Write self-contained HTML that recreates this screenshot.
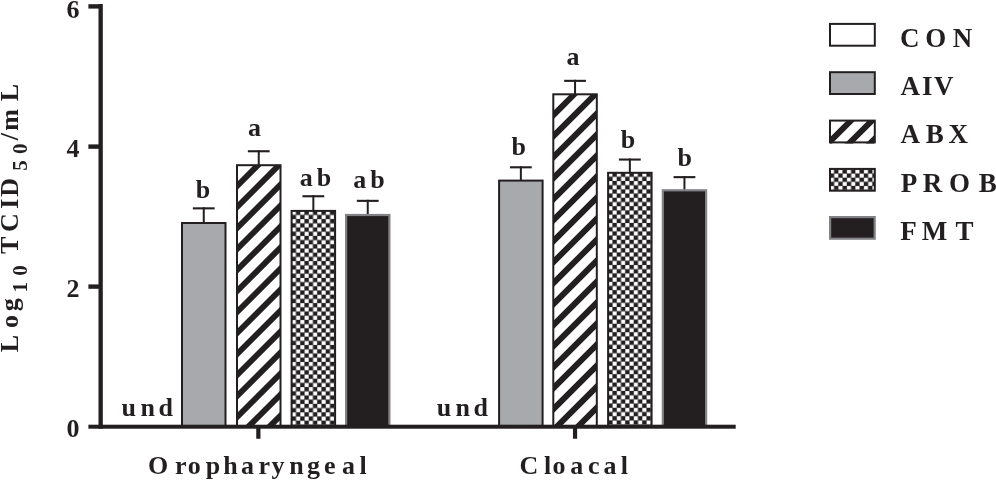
<!DOCTYPE html>
<html><head><meta charset="utf-8"><title>Log10 TCID50/mL chart</title>
<style>html,body{margin:0;padding:0;background:#fff;}body{width:996px;height:480px;overflow:hidden;}svg{display:block;}</style>
</head><body>
<svg width="996" height="480" viewBox="0 0 996 480">
<defs><clipPath id="st0"><rect x="237.0" y="165.2" width="43.5" height="261.5"/></clipPath><pattern id="ck0" patternUnits="userSpaceOnUse" x="291.75" y="210.70000000000002" width="8.5" height="8.4"><rect width="8.5" height="8.4" fill="#231f20"/><rect x="0.1" y="0.1" width="4.05" height="4.0" fill="#fff"/><rect x="4.35" y="4.3" width="4.05" height="4.0" fill="#fff"/></pattern><clipPath id="st1"><rect x="553.3" y="94.3" width="43.5" height="332.4"/></clipPath><pattern id="ck1" patternUnits="userSpaceOnUse" x="608.25" y="172.60000000000002" width="8.5" height="8.4"><rect width="8.5" height="8.4" fill="#231f20"/><rect x="0.1" y="0.1" width="4.05" height="4.0" fill="#fff"/><rect x="4.35" y="4.3" width="4.05" height="4.0" fill="#fff"/></pattern><clipPath id="stl"><rect x="830.0" y="120.6" width="44.8" height="22.8"/></clipPath><pattern id="ckl" patternUnits="userSpaceOnUse" x="829.85" y="169.5" width="8.5" height="8.2"><rect width="8.5" height="8.2" fill="#231f20"/><rect x="0.1" y="0.1" width="4.05" height="3.8999999999999995" fill="#fff"/><rect x="4.35" y="4.199999999999999" width="4.05" height="3.8999999999999995" fill="#fff"/></pattern></defs>
<text x="79.5" y="17.5" text-anchor="end" font-size="26" font-family="Liberation Serif, Times New Roman, serif" font-weight="bold" fill="#231f20">6</text>
<text x="79.5" y="157.3" text-anchor="end" font-size="26" font-family="Liberation Serif, Times New Roman, serif" font-weight="bold" fill="#231f20">4</text>
<text x="79.5" y="297.4" text-anchor="end" font-size="26" font-family="Liberation Serif, Times New Roman, serif" font-weight="bold" fill="#231f20">2</text>
<text x="79.5" y="437.4" text-anchor="end" font-size="26" font-family="Liberation Serif, Times New Roman, serif" font-weight="bold" fill="#231f20">0</text>
<rect x="202.75" y="207.3" width="2" height="15.699999999999989" fill="#231f20"/>
<rect x="192.85" y="207.3" width="21.8" height="2.1" fill="#231f20"/>
<rect x="182.0" y="223.0" width="43.5" height="203.7" fill="#a7a9ac" stroke="#231f20" stroke-width="2.0"/>
<rect x="257.75" y="150.2" width="2" height="15.0" fill="#231f20"/>
<rect x="247.85" y="150.2" width="21.8" height="2.1" fill="#231f20"/>
<rect x="237.0" y="165.2" width="43.5" height="261.5" fill="#fff"/>
<path clip-path="url(#st0)" d="M259.70,159.20L268.10,159.20L-4.40,431.70L-12.80,431.70ZM280.70,159.20L289.10,159.20L16.60,431.70L8.20,431.70ZM301.70,159.20L310.10,159.20L37.60,431.70L29.20,431.70ZM322.70,159.20L331.10,159.20L58.60,431.70L50.20,431.70ZM343.70,159.20L352.10,159.20L79.60,431.70L71.20,431.70ZM364.70,159.20L373.10,159.20L100.60,431.70L92.20,431.70ZM385.70,159.20L394.10,159.20L121.60,431.70L113.20,431.70ZM406.70,159.20L415.10,159.20L142.60,431.70L134.20,431.70ZM427.70,159.20L436.10,159.20L163.60,431.70L155.20,431.70ZM448.70,159.20L457.10,159.20L184.60,431.70L176.20,431.70ZM469.70,159.20L478.10,159.20L205.60,431.70L197.20,431.70ZM490.70,159.20L499.10,159.20L226.60,431.70L218.20,431.70ZM511.70,159.20L520.10,159.20L247.60,431.70L239.20,431.70ZM532.70,159.20L541.10,159.20L268.60,431.70L260.20,431.70Z" fill="#231f20"/>
<rect x="237.0" y="165.2" width="43.5" height="261.5" fill="none" stroke="#231f20" stroke-width="2.0"/>
<rect x="312.35" y="195.2" width="2" height="15.700000000000017" fill="#231f20"/>
<rect x="302.45000000000005" y="195.2" width="21.8" height="2.1" fill="#231f20"/>
<rect x="291.6" y="210.9" width="43.5" height="215.79999999999998" fill="url(#ck0)" stroke="#231f20" stroke-width="2.0"/>
<rect x="366.75" y="199.8" width="2" height="15.099999999999994" fill="#231f20"/>
<rect x="356.85" y="199.8" width="21.8" height="2.1" fill="#231f20"/>
<rect x="346.1" y="215.0" width="43.3" height="211.79999999999998" fill="#231f20" stroke="#808285" stroke-width="2.2"/>
<rect x="519.85" y="166.25" width="2" height="14.349999999999994" fill="#231f20"/>
<rect x="509.95000000000005" y="166.25" width="21.8" height="2.1" fill="#231f20"/>
<rect x="499.1" y="180.6" width="43.5" height="246.1" fill="#a7a9ac" stroke="#231f20" stroke-width="2.0"/>
<rect x="574.05" y="79.8" width="2" height="14.5" fill="#231f20"/>
<rect x="564.15" y="79.8" width="21.8" height="2.1" fill="#231f20"/>
<rect x="553.3" y="94.3" width="43.5" height="332.4" fill="#fff"/>
<path clip-path="url(#st1)" d="M576.00,88.30L584.40,88.30L241.00,431.70L232.60,431.70ZM597.00,88.30L605.40,88.30L262.00,431.70L253.60,431.70ZM618.00,88.30L626.40,88.30L283.00,431.70L274.60,431.70ZM639.00,88.30L647.40,88.30L304.00,431.70L295.60,431.70ZM660.00,88.30L668.40,88.30L325.00,431.70L316.60,431.70ZM681.00,88.30L689.40,88.30L346.00,431.70L337.60,431.70ZM702.00,88.30L710.40,88.30L367.00,431.70L358.60,431.70ZM723.00,88.30L731.40,88.30L388.00,431.70L379.60,431.70ZM744.00,88.30L752.40,88.30L409.00,431.70L400.60,431.70ZM765.00,88.30L773.40,88.30L430.00,431.70L421.60,431.70ZM786.00,88.30L794.40,88.30L451.00,431.70L442.60,431.70ZM807.00,88.30L815.40,88.30L472.00,431.70L463.60,431.70ZM828.00,88.30L836.40,88.30L493.00,431.70L484.60,431.70ZM849.00,88.30L857.40,88.30L514.00,431.70L505.60,431.70ZM870.00,88.30L878.40,88.30L535.00,431.70L526.60,431.70ZM891.00,88.30L899.40,88.30L556.00,431.70L547.60,431.70ZM912.00,88.30L920.40,88.30L577.00,431.70L568.60,431.70ZM933.00,88.30L941.40,88.30L598.00,431.70L589.60,431.70Z" fill="#231f20"/>
<rect x="553.3" y="94.3" width="43.5" height="332.4" fill="none" stroke="#231f20" stroke-width="2.0"/>
<rect x="628.85" y="158.5" width="2" height="14.300000000000011" fill="#231f20"/>
<rect x="618.95" y="158.5" width="21.8" height="2.1" fill="#231f20"/>
<rect x="608.1" y="172.8" width="43.5" height="253.89999999999998" fill="url(#ck1)" stroke="#231f20" stroke-width="2.0"/>
<rect x="683.45" y="176.1" width="2" height="14.099999999999994" fill="#231f20"/>
<rect x="673.5500000000001" y="176.1" width="21.8" height="2.1" fill="#231f20"/>
<rect x="662.8000000000001" y="190.29999999999998" width="43.3" height="236.5" fill="#231f20" stroke="#808285" stroke-width="2.2"/>
<rect x="98.5" y="4.0" width="4.3" height="424.7" fill="#231f20"/>
<rect x="88.4" y="424.7" width="647.3000000000001" height="4.0" fill="#231f20"/>
<rect x="88.4" y="4.2" width="11.099999999999994" height="4.4" fill="#231f20"/>
<rect x="88.4" y="144.4" width="11.099999999999994" height="4.4" fill="#231f20"/>
<rect x="88.4" y="284.40000000000003" width="11.099999999999994" height="4.4" fill="#231f20"/>
<rect x="256.25" y="425.7" width="4.2" height="13.050000000000011" fill="#231f20"/>
<rect x="572.9499999999999" y="425.7" width="4.2" height="13.050000000000011" fill="#231f20"/>
<text x="195.77" y="197.55" font-size="26" font-family="Liberation Serif, Times New Roman, serif" font-weight="bold" fill="#231f20">b</text>
<text x="248.01" y="135.6" font-size="26" font-family="Liberation Serif, Times New Roman, serif" font-weight="bold" fill="#231f20">a</text>
<text x="299.66 316.67" y="185.75" font-size="26" font-family="Liberation Serif, Times New Roman, serif" font-weight="bold" fill="#231f20">ab</text>
<text x="353.16 370.27" y="188.4" font-size="26" font-family="Liberation Serif, Times New Roman, serif" font-weight="bold" fill="#231f20">ab</text>
<text x="511.57" y="154.75" font-size="26" font-family="Liberation Serif, Times New Roman, serif" font-weight="bold" fill="#231f20">b</text>
<text x="566.46" y="64.8" font-size="26" font-family="Liberation Serif, Times New Roman, serif" font-weight="bold" fill="#231f20">a</text>
<text x="620.67" y="148.05" font-size="26" font-family="Liberation Serif, Times New Roman, serif" font-weight="bold" fill="#231f20">b</text>
<text x="677.47" y="166.0" font-size="26" font-family="Liberation Serif, Times New Roman, serif" font-weight="bold" fill="#231f20">b</text>
<text x="121.41 140.60 158.55" y="416.0" font-size="26" font-family="Liberation Serif, Times New Roman, serif" font-weight="bold" fill="#231f20">und</text>
<text x="436.76 455.60 473.55" y="416.4" font-size="26" font-family="Liberation Serif, Times New Roman, serif" font-weight="bold" fill="#231f20">und</text>
<text x="147.93 175.00 187.81 205.67 223.35 240.96 258.60 271.55 289.20 307.01 324.01 342.06 359.59" y="473.9" font-size="26" font-family="Liberation Serif, Times New Roman, serif" font-weight="bold" fill="#231f20">Oropharyngeal</text>
<text x="519.53 543.99 552.61 570.26 588.01 603.46 620.79" y="474.2" font-size="26" font-family="Liberation Serif, Times New Roman, serif" font-weight="bold" fill="#231f20">Cloacal</text>
<rect x="830.0" y="23.9" width="44.8" height="21.8" fill="#fff" stroke="#231f20" stroke-width="2"/>
<rect x="830.0" y="72.2" width="44.8" height="21.8" fill="#a7a9ac" stroke="#231f20" stroke-width="2"/>
<rect x="830.0" y="120.6" width="44.8" height="21.8" fill="#fff"/>
<path clip-path="url(#stl)" d="M852.70,114.60L861.10,114.60L827.30,148.40L818.90,148.40ZM873.70,114.60L882.10,114.60L848.30,148.40L839.90,148.40ZM894.70,114.60L903.10,114.60L869.30,148.40L860.90,148.40Z" fill="#231f20"/>
<rect x="830.0" y="120.6" width="44.8" height="21.8" fill="none" stroke="#231f20" stroke-width="2"/>
<rect x="830.0" y="168.9" width="44.8" height="21.8" fill="url(#ckl)" stroke="#231f20" stroke-width="2"/>
<rect x="830.1" y="217.1" width="44.599999999999994" height="21.6" fill="#231f20" stroke="#808285" stroke-width="2.2"/>
<text x="899.88 925.18 952.69" y="46.9" font-size="27" font-family="Liberation Serif, Times New Roman, serif" font-weight="bold" fill="#231f20">CON</text>
<text x="900.44 921.99 933.90" y="94.65" font-size="27" font-family="Liberation Serif, Times New Roman, serif" font-weight="bold" fill="#231f20">AIV</text>
<text x="900.54 925.65 948.50" y="142.65" font-size="27" font-family="Liberation Serif, Times New Roman, serif" font-weight="bold" fill="#231f20">ABX</text>
<text x="900.74 922.84 948.88 978.85" y="191.9" font-size="27" font-family="Liberation Serif, Times New Roman, serif" font-weight="bold" fill="#231f20">PROB</text>
<text x="900.34 921.64 955.38" y="239.9" font-size="27" font-family="Liberation Serif, Times New Roman, serif" font-weight="bold" fill="#231f20">FMT</text>
<text transform="rotate(-90)" x="-352.34" y="17.7" font-size="26" font-family="Liberation Serif, Times New Roman, serif" font-weight="bold" fill="#231f20">L</text>
<text transform="rotate(-90)" x="-327.89" y="17.7" font-size="26" font-family="Liberation Serif, Times New Roman, serif" font-weight="bold" fill="#231f20">o</text>
<text transform="rotate(-90)" x="-311.19" y="17.7" font-size="26" font-family="Liberation Serif, Times New Roman, serif" font-weight="bold" fill="#231f20">g</text>
<text transform="rotate(-90)" x="-292.48" y="26.9" font-size="21" font-family="Liberation Serif, Times New Roman, serif" font-weight="bold" fill="#231f20">1</text>
<text transform="rotate(-90)" x="-275.80" y="26.9" font-size="21" font-family="Liberation Serif, Times New Roman, serif" font-weight="bold" fill="#231f20">0</text>
<text transform="rotate(-90)" x="-254.11" y="17.7" font-size="26" font-family="Liberation Serif, Times New Roman, serif" font-weight="bold" fill="#231f20">T</text>
<text transform="rotate(-90)" x="-231.97" y="17.7" font-size="26" font-family="Liberation Serif, Times New Roman, serif" font-weight="bold" fill="#231f20">C</text>
<text transform="rotate(-90)" x="-208.78" y="17.7" font-size="26" font-family="Liberation Serif, Times New Roman, serif" font-weight="bold" fill="#231f20">I</text>
<text transform="rotate(-90)" x="-196.86" y="17.7" font-size="26" font-family="Liberation Serif, Times New Roman, serif" font-weight="bold" fill="#231f20">D</text>
<text transform="rotate(-90)" x="-170.64" y="26.9" font-size="21" font-family="Liberation Serif, Times New Roman, serif" font-weight="bold" fill="#231f20">5</text>
<text transform="rotate(-90)" x="-154.10" y="26.9" font-size="21" font-family="Liberation Serif, Times New Roman, serif" font-weight="bold" fill="#231f20">0</text>
<text transform="rotate(-90)" x="-140.35" y="17.7" font-size="26" font-family="Liberation Serif, Times New Roman, serif" font-weight="bold" fill="#231f20">/</text>
<text transform="rotate(-90)" x="-130.70" y="17.7" font-size="26" font-family="Liberation Serif, Times New Roman, serif" font-weight="bold" fill="#231f20">m</text>
<text transform="rotate(-90)" x="-101.24" y="17.7" font-size="26" font-family="Liberation Serif, Times New Roman, serif" font-weight="bold" fill="#231f20">L</text>
</svg>
</body></html>
